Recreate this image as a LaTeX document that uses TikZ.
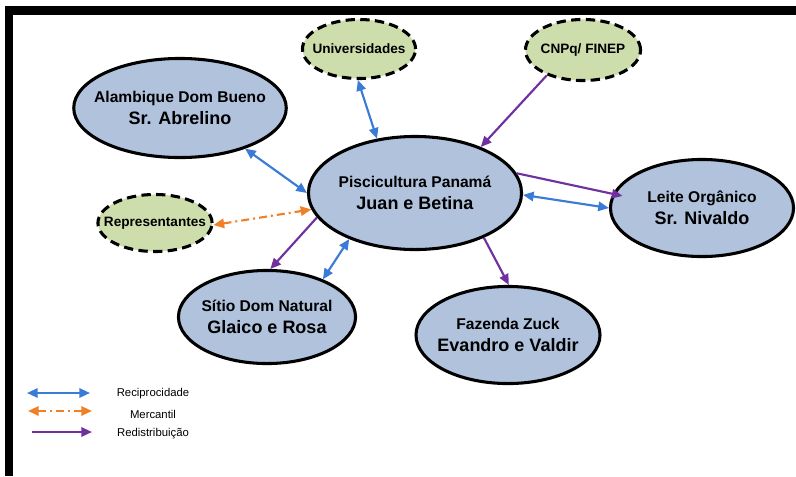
\documentclass[tikz,border=0pt]{standalone}
\usepackage{fontspec}
\setmainfont{Liberation Sans}
\usetikzlibrary{shapes.geometric,arrows.meta}
\definecolor{steelfill}{RGB}{176,194,220}
\definecolor{sagefill}{RGB}{205,221,172}
\definecolor{recipblue}{RGB}{58,123,213}
\definecolor{mercorange}{RGB}{240,128,40}
\definecolor{redistpurple}{RGB}{112,48,160}
\tikzset{
  actor/.style={ellipse,draw=black,line width=2.3pt,fill=steelfill,inner sep=-8pt,align=center,font=\bfseries\fontsize{11.7}{16.5}\selectfont},
  partner/.style={ellipse,draw=black,line width=2.3pt,dash pattern=on 7pt off 4pt,fill=sagefill,inner sep=-8pt,font=\bfseries\fontsize{10.2}{12}\selectfont},
  recip/.style={draw=recipblue,line width=1.6pt,{Triangle[length=8pt,width=7pt]}-{Triangle[length=8pt,width=7pt]}},
  merc/.style={draw=mercorange,line width=1.6pt,dash pattern=on 6pt off 3pt on 1.5pt off 3pt,{Triangle[length=8pt,width=7pt]}-{Triangle[length=8pt,width=7pt]}},
  redist/.style={draw=redistpurple,line width=1.6pt,-{Triangle[length=8pt,width=7pt]}},
  legtext/.style={font=\fontsize{8.5}{10}\selectfont,inner sep=0pt}
}
\newcommand{\bigname}[1]{{\fontsize{13.5}{16.5}\selectfont #1}}

\begin{document}
\begin{tikzpicture}[x=0.75pt,y=-0.75pt]
    \useasboundingbox (0,0) rectangle (796,476);
    \fill[black] (5,6) rectangle (796,15);
    \fill[black] (5,6) rectangle (13,476);

                \node[actor, minimum width=159.8pt, minimum height=84.8pt] (pisc) at (415,193) {Piscicultura Panamá\\ \bigname{Juan e Betina}};
                \node[actor, minimum width=155.3pt, minimum height=74.3pt] (alamb) at (180,108) {Alambique Dom Bueno\\ \bigname{Sr. Abrelino}};
                \node[actor, minimum width=137.3pt, minimum height=72.8pt] (leite) at (702,208) {Leite Orgânico\\ \bigname{Sr. Nivaldo}};
                \node[actor, minimum width=132.8pt, minimum height=69.8pt] (sitio) at (267,317) {Sítio Dom Natural\\ \bigname{Glaico e Rosa}};
                \node[actor, minimum width=138pt, minimum height=72.8pt] (faz) at (508,335) {Fazenda Zuck\\ \bigname{Evandro e Valdir}};

                \node[partner, minimum width=84.8pt, minimum height=44.3pt] (univ) at (359,49) {Universidades};
                \node[partner, minimum width=86.3pt, minimum height=45.8pt] (cnpq) at (583,50) {CNPq/ FINEP};
                \node[partner, minimum width=84.8pt, minimum height=42.8pt] (repr) at (155,223) {Representantes};

                % Relations
                \draw[recip] (alamb.-32) -- (pisc.180);
                \draw[recip] (univ.-92) -- (pisc.125);
                \draw[recip] (sitio.34) -- (pisc.215);
                \draw[recip] (pisc.-1) -- (leite.180);
                \draw[merc] (repr.-2) -- (pisc.189);
                \draw[redist] (cnpq.215) -- (pisc.35);
                \draw[redist] (pisc.194) -- (sitio.86);
                \draw[redist] (pisc.-33) -- (faz.89);
                \draw[redist, shorten >=-7.5pt] (pisc.11) -- (leite.171);

                % Legend
                \coordinate (r1) at (27,393);  \coordinate (r2) at (90,393);
                \coordinate (m1) at (28,411);  \coordinate (m2) at (92,411);
                \coordinate (d1) at (32,432);  \coordinate (d2) at (92,432);
                \draw[recip] (r1) -- (r2);
                \draw[merc] (m1) -- (m2);
                \draw[redist] (d1) -- (d2);
                \node[legtext] (lrecip) at (153,394) {Reciprocidade};
                \node[legtext] (lmerc) at (153,414) {Mercantil};
                \node[legtext] (lredist) at (153,434) {Redistribuição};

\end{tikzpicture}
\end{document}
